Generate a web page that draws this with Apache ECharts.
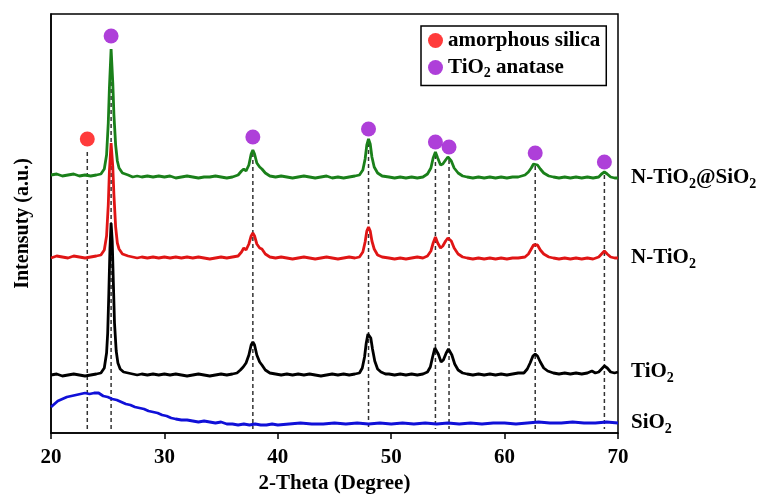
<!DOCTYPE html>
<html>
<head>
<meta charset="utf-8">
<script src="https://cdn.jsdelivr.net/npm/echarts@6/dist/echarts.min.js"></script>
<style>
  html, body { margin: 0; padding: 0; background: #fff; }
  #chart { width: 763px; height: 494px; }
</style>
</head>
<body>
<div id="chart"></div>
<script>
// XRD patterns, [2-theta, intensity (a.u., stacked offset included)]
const nTiO2SiO2 = [[20,258],[20.5,259],[21,257],[21.5,258],[22,259],[22.5,257],[23,258],[23.5,257],[24,258],[24.4,259],[24.7,264],[24.9,278],[25.05,310],[25.15,345],[25.3,384],[25.45,350],[25.55,318],[25.7,288],[25.85,272],[26.0,265],[26.3,260],[26.8,258],[27.2,256],[27.6,257],[28,256],[28.5,257],[29,256],[29.5,257],[30,256],[30.5,257],[31,255],[31.5,256],[32,257],[32.5,256],[33,255],[33.5,256],[34,256],[34.5,257],[35,256],[35.5,255],[36,256],[36.5,258],[36.8,262],[37.0,264],[37.2,262],[37.45,268],[37.65,279],[37.8,283],[37.95,279],[38.15,270],[38.4,266],[38.6,264],[38.9,260],[39.3,257],[39.8,256],[40.3,257],[40.8,256],[41.3,255],[41.8,256],[42.3,257],[42.8,256],[43.3,255],[43.8,256],[44.3,257],[44.8,255],[45.3,256],[45.8,255],[46.3,256],[46.8,257],[47.2,258],[47.5,263],[47.7,274],[47.85,288],[48.0,294],[48.15,289],[48.3,276],[48.5,266],[48.8,260],[49.2,257],[49.8,256],[50.3,255],[50.8,256],[51.3,255],[51.8,256],[52.3,255],[52.8,256],[53.2,259],[53.5,265],[53.7,275],[53.9,281],[54.1,275],[54.35,268],[54.55,269],[54.8,273],[55.0,276],[55.1,276],[55.3,272],[55.55,265],[55.9,260],[56.3,257],[56.7,256],[57.2,255],[57.7,256],[58.2,255],[58.7,256],[59.2,255],[59.7,256],[60.2,255],[60.7,256],[61.2,256],[61.8,258],[62.1,261],[62.35,265],[62.55,269],[62.7,270],[62.9,268],[63.15,264],[63.45,260],[63.9,257],[64.3,256],[64.8,255],[65.3,256],[65.8,255],[66.3,256],[66.8,255],[67.3,256],[67.8,255],[68.3,256],[68.55,259],[68.8,261],[69.05,259],[69.35,256],[69.7,255],[70,255]];
const nTiO2 = [[20,175],[20.5,177],[21,176],[21.5,175],[22,177],[22.5,176],[23,175],[23.5,176],[24,177],[24.4,178],[24.7,183],[24.9,197],[25.05,228],[25.15,262],[25.3,290],[25.45,266],[25.55,238],[25.7,206],[25.85,190],[26.0,184],[26.3,179],[26.8,177],[27.2,176],[27.6,175],[28,176],[28.5,175],[29,176],[29.5,175],[30,176],[30.5,175],[31,176],[31.5,175],[32,176],[32.5,175],[33,176],[33.5,175],[34,174],[34.5,175],[35,176],[35.5,175],[36,176],[36.5,177],[36.8,181],[37.0,185],[37.2,183],[37.45,189],[37.65,197],[37.8,200],[37.95,197],[38.15,189],[38.4,185],[38.6,184],[38.9,179],[39.3,176],[39.8,175],[40.3,176],[40.8,175],[41.3,174],[41.8,175],[42.3,176],[42.8,175],[43.3,174],[43.8,175],[44.3,176],[44.8,175],[45.3,174],[45.8,175],[46.3,176],[46.8,175],[47.2,176],[47.5,181],[47.7,191],[47.85,202],[48.0,206],[48.15,202],[48.3,192],[48.5,184],[48.8,178],[49.2,176],[49.8,175],[50.3,174],[50.8,175],[51.3,174],[51.8,175],[52.3,176],[52.8,175],[53.2,177],[53.5,182],[53.7,190],[53.9,196],[54.1,190],[54.35,185],[54.55,187],[54.8,192],[55.0,195],[55.1,196],[55.3,192],[55.55,185],[55.9,179],[56.3,176],[56.7,175],[57.2,174],[57.7,175],[58.2,174],[58.7,175],[59.2,174],[59.7,175],[60.2,174],[60.7,175],[61.2,175],[61.8,176],[62.1,179],[62.35,184],[62.55,188],[62.7,190],[62.9,188],[63.15,183],[63.45,179],[63.9,176],[64.3,175],[64.8,174],[65.3,175],[65.8,174],[66.3,175],[66.8,174],[67.3,175],[67.8,174],[68.3,176],[68.55,179],[68.8,182],[69.05,179],[69.35,176],[69.7,175],[70,175]];
const tiO2 = [[20,58],[20.5,59],[21,57],[21.5,58],[22,59],[22.5,58],[23,57],[23.5,58],[24,59],[24.4,60],[24.7,65],[24.9,80],[25.0,100],[25.1,140],[25.2,185],[25.3,210],[25.4,192],[25.5,150],[25.6,110],[25.75,82],[25.9,70],[26.1,64],[26.4,61],[26.8,60],[27.2,59],[27.6,58],[28,59],[28.5,58],[29,59],[29.5,58],[30,59],[30.5,58],[31,59],[31.5,58],[32,57],[32.5,58],[33,59],[33.5,58],[34,57],[34.5,58],[35,59],[35.5,58],[36,59],[36.4,60],[36.7,63],[36.95,66],[37.2,70],[37.45,78],[37.65,88],[37.8,91],[37.95,88],[38.15,78],[38.4,71],[38.6,68],[38.9,63],[39.3,60],[39.8,59],[40.3,58],[40.8,59],[41.3,58],[41.8,59],[42.3,58],[42.8,59],[43.3,58],[43.8,57],[44.3,58],[44.8,59],[45.3,58],[45.8,59],[46.3,58],[46.8,59],[47.2,60],[47.45,65],[47.65,76],[47.8,90],[47.95,99],[48.05,100],[48.2,95],[48.35,84],[48.55,72],[48.8,64],[49.1,61],[49.5,59],[49.8,59],[50.3,58],[50.8,59],[51.3,58],[51.8,59],[52.3,58],[52.8,59],[53.2,61],[53.45,66],[53.65,76],[53.85,85],[53.95,86],[54.15,79],[54.4,71],[54.6,73],[54.85,80],[55.05,84],[55.15,84],[55.35,78],[55.6,69],[55.9,63],[56.3,60],[56.7,59],[57.2,58],[57.7,59],[58.2,58],[58.7,59],[59.2,58],[59.7,59],[60.2,58],[60.7,59],[61.2,60],[61.7,60],[62.0,64],[62.25,70],[62.5,77],[62.7,79],[62.9,77],[63.15,71],[63.45,65],[63.8,62],[64.3,60],[64.8,59],[65.3,60],[65.8,59],[66.3,60],[66.8,59],[67.3,60],[67.7,62],[68.0,60],[68.3,61],[68.55,64],[68.8,67],[69.05,65],[69.35,61],[69.7,60],[70,61]];
const siO2 = [[20,26],[20.3,29],[20.6,32],[21,34],[21.4,36],[21.8,37],[22.2,38],[22.6,39],[23,40],[23.4,39],[23.8,40],[24.2,40],[24.6,37],[25,36],[25.4,34],[25.8,33],[26.2,31],[26.6,29],[27,28],[27.4,26],[27.8,25],[28.2,24],[28.6,22],[29,21],[29.4,20],[29.8,18],[30.2,17],[30.6,15],[31,14],[31.5,13],[32,13],[32.5,12],[33,11],[33.5,12],[34,11],[34.5,10],[35,11],[35.5,9],[36,9],[36.5,8],[37,9],[37.5,8],[38,9],[38.5,8],[39,8],[39.5,9],[40,8],[41,9],[42,10],[43,9],[44,9],[45,10],[46,9],[47,10],[48,9],[49,10],[50,9],[51,10],[52,9],[53,10],[54,9],[55,10],[56,9],[57,10],[58,9],[59,10],[60,10],[61,9],[62,10],[63,11],[64,10],[65,10],[66,11],[67,10],[68,10],[69,11],[70,10]];

// peak markers
const silicaPeak = [[23.2, 294]];
const anataseX = [25.3, 37.8, 48.0, 53.9, 55.1, 62.7, 68.8];
const anataseY = [397, 296, 304, 291, 286, 280, 271];

// dashed reference lines: position and top end
const refX = [23.2, 25.3, 37.8, 48.0, 53.9, 55.1, 62.7, 68.8];
const refTop = [281, 372, 280, 290, 278, 273, 267, 258];
const refBottom = 4;

const xTicks = [20, 30, 40, 50, 60, 70];

const serif = "'Liberation Serif', 'Times New Roman', serif";
const subRich = {
  b: { fontFamily: serif, fontWeight: 'bold', fontSize: 21, color: '#000' },
  s: { fontFamily: serif, fontWeight: 'bold', fontSize: 14, color: '#000', padding: [12, 0, 0, 0] }
};

function trace(name, data, color, label) {
  return {
    name: name,
    type: 'line',
    data: data,
    showSymbol: false,
    symbol: 'none',
    z: 3,
    lineStyle: { color: color, width: 2.8 },
    endLabel: {
      show: true,
      distance: 13,
      formatter: () => label,
      rich: subRich
    }
  };
}

const refSeries = refX.map((x, i) => ({
  type: 'line',
  data: [[x, refTop[i]], [x, refBottom]],
  showSymbol: false,
  symbol: 'none',
  silent: true,
  z: 2,
  lineStyle: { color: '#333', width: 1.5, type: [4, 3] }
}));

const chart = echarts.init(document.getElementById('chart'));
chart.setOption({
  animation: false,
  backgroundColor: '#fff',
  grid: {
    left: 51, right: 145, top: 14, bottom: 61,
    containLabel: false,
    outerBoundsMode: 'none',
    show: true, borderColor: '#000', borderWidth: 1.5
  },
  legend: {
    data: ['amorphous silica', 'TiO2 anatase'],
    orient: 'vertical',
    left: 421, top: 26,
    padding: [4, 6, 5, 7],
    itemGap: 6,
    itemWidth: 15, itemHeight: 15,
    icon: 'circle',
    borderColor: '#000', borderWidth: 1.5,
    formatter: n => n === 'TiO2 anatase' ? '{b|TiO}{s|2}{b| anatase}' : '{b|' + n + '}',
    textStyle: { rich: subRich }
  },
  xAxis: {
    type: 'value',
    min: xTicks[0], max: xTicks[xTicks.length - 1], interval: 10,
    name: '2-Theta (Degree)',
    nameLocation: 'middle',
    nameGap: 40,
    nameTextStyle: { fontFamily: serif, fontWeight: 'bold', fontSize: 21, color: '#000' },
    axisLine: { lineStyle: { color: '#000', width: 1.5 } },
    axisTick: { inside: false, length: 6, lineStyle: { color: '#000', width: 1.5 } },
    axisLabel: { fontFamily: serif, fontWeight: 'bold', fontSize: 21, color: '#000', margin: 14 },
    splitLine: { show: false }
  },
  yAxis: {
    type: 'value',
    min: 0, max: 419,
    name: 'Intensuty (a.u.)',
    nameLocation: 'middle',
    nameGap: 18,
    nameRotate: 90,
    nameTextStyle: { fontFamily: serif, fontWeight: 'bold', fontSize: 20, color: '#000' },
    axisLine: { show: true, lineStyle: { color: '#000', width: 1.5 } },
    axisTick: { show: false },
    axisLabel: { show: false },
    splitLine: { show: false }
  },
  series: [
    ...refSeries,
    trace('N-TiO2@SiO2', nTiO2SiO2, '#1a801a', '{b|N-TiO}{s|2}{b|@SiO}{s|2}'),
    trace('N-TiO2', nTiO2, '#e01515', '{b|N-TiO}{s|2}'),
    trace('TiO2', tiO2, '#000000', '{b|TiO}{s|2}'),
    trace('SiO2', siO2, '#1010d8', '{b|SiO}{s|2}'),
    {
      name: 'amorphous silica',
      type: 'scatter',
      data: silicaPeak,
      symbol: 'circle',
      symbolSize: 15,
      z: 5,
      itemStyle: { color: '#ff0a0a' }
    },
    {
      name: 'TiO2 anatase',
      type: 'scatter',
      data: anataseX.map((x, i) => [x, anataseY[i]]),
      symbol: 'circle',
      symbolSize: 15,
      z: 5,
      itemStyle: { color: '#9a0fd0' }
    }
  ]
});
</script>
</body>
</html>
